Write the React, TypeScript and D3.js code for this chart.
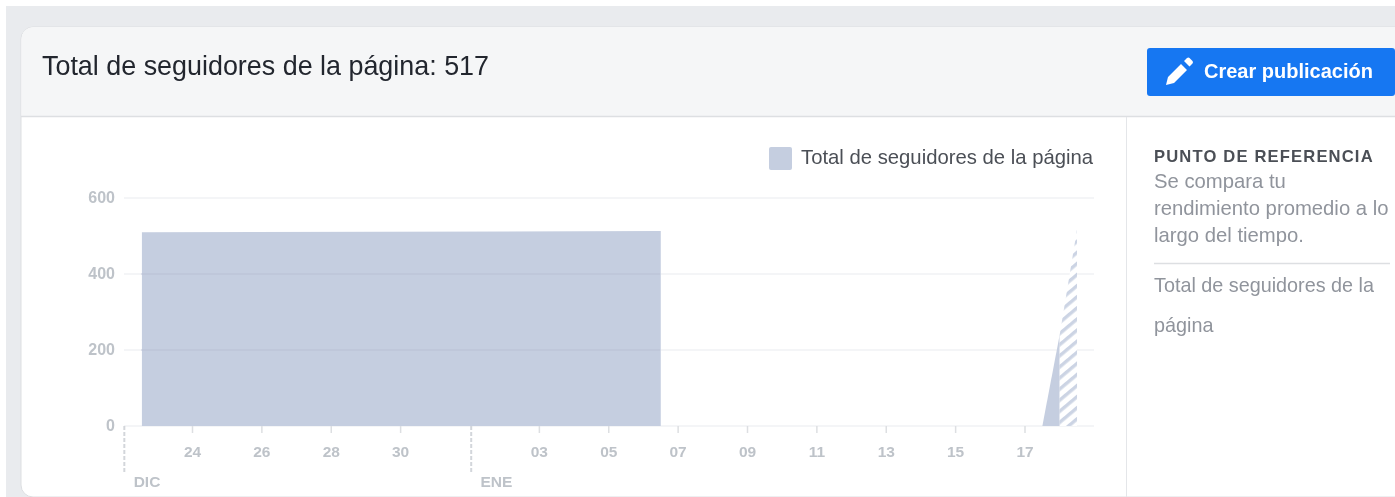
import React from "react";
import * as d3 from "d3";

const tickDates = ["2019-12-24","2019-12-26","2019-12-28","2019-12-30","2020-01-03","2020-01-05","2020-01-07","2020-01-09","2020-01-11","2020-01-13","2020-01-15","2020-01-17"];
const tickLabels = ["24","26","28","30","03","05","07","09","11","13","15","17"];
const monthDates = ["2019-12-22","2020-01-01"];
const monthLabels = ["DIC","ENE"];
const yTicks = [0,200,400,600];
const solidDates = ["2019-12-22T13:00Z","2020-01-06T12:00Z"];
const solidValues = [510,513];
const recentDates = ["2020-01-17T12:00Z","2020-01-18T00:00Z"];
const recentValues = [0,240];
const partialDates = ["2020-01-18T00:00Z","2020-01-18T12:00Z"];
const partialValues = [240,517];
const legendLabel = "Total de seguidores de la página";
const title = "Total de seguidores de la página: 517";
const button = "Crear publicación";
const sideHead = "PUNTO DE REFERENCIA";
const sideLines = ["Se compara tu","rendimiento promedio a lo","largo del tiempo."];
const sideMetric = ["Total de seguidores de la","página"];

const d = (s: string) => new Date(s.length === 10 ? s + "T00:00Z" : s);
const x = d3.scaleUtc().domain([d("2019-12-24"), d("2020-01-17")]).range([192.5, 1025]);
const y = d3.scaleLinear().domain([0,600]).range([426,198]);
const FONT = "'Liberation Sans', Arial, sans-serif";
const BAR = "#c5cee0";

const areaOf = (dates: string[], vals: number[]) =>
  d3.area<number>().x((_, i) => x(d(dates[i]))).y0(y(0)).y1(v => y(v))(vals) || "";

export default function App() {
  return (
    <svg width={1395} height={497} style={{position:"absolute",left:0,top:0,fontFamily:FONT,display:"block"}}>
      <defs>
        <pattern id="hatch" width="8.5" height="8.5" patternUnits="userSpaceOnUse" patternTransform="rotate(-40)">
          <rect width="8.5" height="8.5" fill="#fff"/>
          <rect width="8.5" height="3.4" fill="#ccd4e4"/>
        </pattern>
        <filter id="soft" filterUnits="userSpaceOnUse" x={0} y={0} width={1395} height={497}><feGaussianBlur stdDeviation="0.4"/></filter>
      </defs>
      <rect width={1395} height={497} fill="#fff"/>
      <g filter="url(#soft)">
      <rect x={6} y={6} width={1400} height={500} fill="#e9ebee"/>
      <path d="M21 485 V39 a12 12 0 0 1 12 -12 H1400 V497 H33 a12 12 0 0 1 -12 -12 Z" fill="#fff" stroke="#dddfe2"/>
      <path d="M21.5 116.5 V39 a12 12 0 0 1 12 -12 H1400 V116.5 Z" fill="#f5f6f7"/>
      <line x1={21} x2={1400} y1={116.5} y2={116.5} stroke="#dddfe2" strokeWidth={1.5}/>
      <line x1={1126.5} x2={1126.5} y1={117} y2={497} stroke="#e4e6e9"/>
      <text x={42} y={75} fontSize={26.9} fill="#23272f">{title}</text>

      <rect x={1147} y={48} width={248} height={48} rx={3} fill="#1877f2"/>
      <path d="M1166 85 l2 -8 l13 -13 l6 6 l-13 13 Z M1184 61 l3 -3 q1.5 -1 2.5 0 l3 3 q1 1 0 2.5 l-3 3 Z" fill="#fff"/>
      <text x={1204} y={77.5} fontSize={20} fontWeight={700} fill="#fff">{button}</text>

      <rect x={769} y={147} width={23} height={23} rx={2} fill={BAR}/>
      <text x={801} y={163.5} fontSize={20.3} fill="#4b4f56">{legendLabel}</text>

      {yTicks.map(t => (
        <g key={t}>
          <line x1={124} x2={1094} y1={y(t)} y2={y(t)} stroke="#f1f2f5" strokeWidth={1.5}/>
          <text x={115} y={y(t)+5} textAnchor="end" fontSize={16} fontWeight={700} fill="#bec3c9">{t}</text>
        </g>
      ))}
      <path d={areaOf(solidDates, solidValues)} fill={BAR}/>
      <path d={areaOf(recentDates, recentValues)} fill={BAR}/>
      <path d={areaOf(partialDates, partialValues)} fill="url(#hatch)"/>
      {yTicks.slice(1,3).map(t => (
        <line key={t} x1={141.5} x2={660} y1={y(t)} y2={y(t)} stroke="#bcc5d9" strokeWidth={1.5}/>
      ))}

      {tickDates.map((s,i) => (
        <g key={s}>
          <line x1={x(d(s))} x2={x(d(s))} y1={426} y2={433} stroke="#dddfe2" strokeWidth={1.5}/>
          <text x={x(d(s))} y={457} textAnchor="middle" fontSize={15.5} fontWeight={700} fill="#bec3c9">{tickLabels[i]}</text>
        </g>
      ))}
      {monthDates.map((s,i) => (
        <g key={s}>
          <line x1={x(d(s))+1.2} x2={x(d(s))+1.2} y1={426} y2={474} stroke="#d3d6db" strokeWidth={2} strokeDasharray="4 2"/>
          <text x={x(d(s))+10.5} y={487} fontSize={15.5} fontWeight={700} fill="#bec3c9">{monthLabels[i]}</text>
        </g>
      ))}

      <text x={1154} y={162} fontSize={16.6} fontWeight={700} letterSpacing={1.15} fill="#4b4f56">{sideHead}</text>
      {sideLines.map((t,i) => (
        <text key={t} x={1154} y={188+i*27} fontSize={20.3} fill="#90949c">{t}</text>
      ))}
      <line x1={1154} x2={1390} y1={263.5} y2={263.5} stroke="#dddfe2" strokeWidth={1.5}/>
      {sideMetric.map((t,i) => (
        <text key={t} x={1154} y={292+i*40} fontSize={19.8} fill="#90949c">{t}</text>
      ))}
      </g>
    </svg>
  );
}
